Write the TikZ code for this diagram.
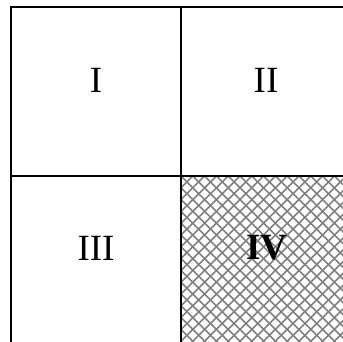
\documentclass[tikz,border=0pt]{standalone}
\usepackage{fontspec}
\setmainfont{Liberation Serif}
\usepackage{tikz}
\usetikzlibrary{positioning, calc}

\begin{document}
\begin{tikzpicture}[
        x=1pt, y=-1pt,
        cell/.style={
            rectangle,
            minimum width=170pt,
            minimum height=169pt,
            inner sep=0pt,
            outer sep=0pt,
            anchor=north west
        },
        border/.style={line width=1.5pt},
        numeral/.style={font=\fontsize{37}{40}\selectfont},
        hatch/.style={draw=black!50, line width=1.6pt}
    ]

        \useasboundingbox (0,0) rectangle (343,342);
        \clip (0,0) rectangle (343,342);

        % quadrants
        \node[cell] (q1) at (11,7) {};
        \node[cell] (q2) at (181,7) {};
        \node[cell] (q3) at (11,176) {};
        \node[cell] (q4) at (181,176) {};

        % hatching of the fourth quadrant
        \begin{scope}
            \clip (q4.north west) rectangle (q4.south east);
            \foreach \c in {-17,...,30} {
                \draw[hatch] ($(q4.north west)+(11.8*\c,0)$) -- ++(200,200);
                \draw[hatch] ($(q4.north west)+(11.8*\c,0)$) -- ++(-200,200);
            }
        \end{scope}

        \draw[border] (q1.north west) rectangle (q4.south east);
        \draw[border] (q1.north east) -- (q3.south east);
        \draw[border] (q1.south west) -- (q2.south east);

        \node[numeral] (n1) at (96,80) {I};
        \node[numeral] (n2) at (266,80) {II};
        \node[numeral] (n3) at (96,248) {III};
        \node[numeral] (n4) at (267,248) {\textbf{IV}};

    \end{tikzpicture}
\end{document}
